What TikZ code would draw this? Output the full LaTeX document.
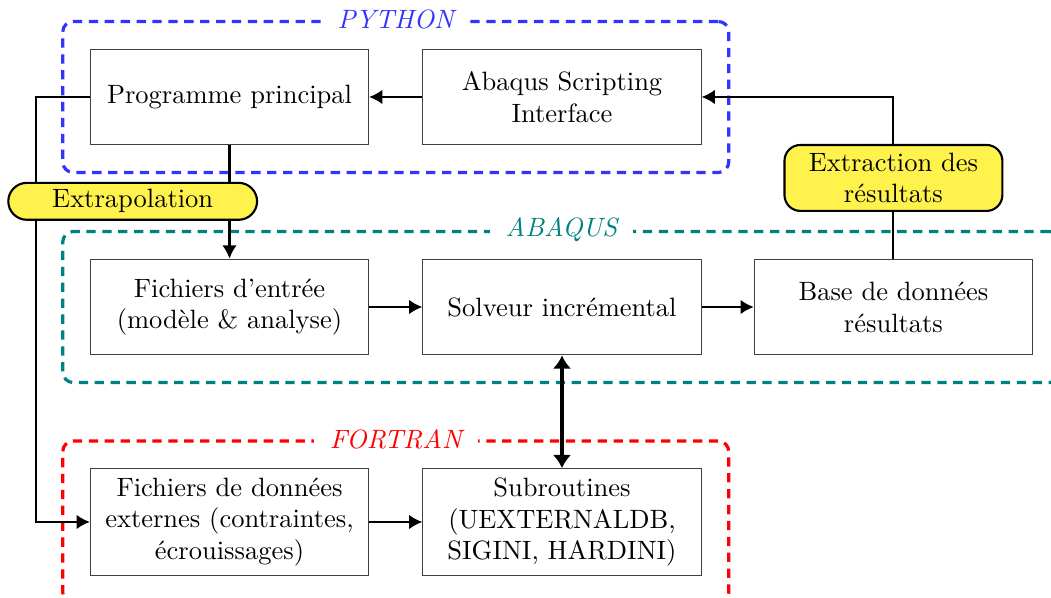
\documentclass[tikz,border=0pt]{standalone}
\usepackage{tikz}
\usetikzlibrary{arrows.meta,positioning,fit,calc}
\definecolor{pyblue}{RGB}{51,51,255}
\definecolor{abteal}{RGB}{0,128,128}
\definecolor{fortred}{RGB}{255,0,0}
\definecolor{tagyellow}{RGB}{255,242,77}

\begin{document}
\begin{tikzpicture}[
  box/.style={draw=black!75,align=center,minimum width=3.69cm,minimum height=1.27cm},
  frame/.style={very thick,dash pattern=on 3.5pt off 2.5pt,rounded corners=4pt,inner sep=0.36cm},
  framelabel/.style={fill=white,font=\itshape,inner xsep=6pt,inner ysep=1pt},
  tag/.style={draw,thick,fill=tagyellow,align=center},
  conn/.style={thick,-{Latex[length=5pt,width=5.5pt]}}]
\useasboundingbox (0,0) rectangle (13.94,-7.93);
% boxes
\node[box] (prog) at (3.044,-1.286) {Programme principal};
\node[box] (asi) at (7.454,-1.286) {Abaqus Scripting\\Interface};
\node[box] (entree) at (3.044,-4.072) {Fichiers d'entr\'ee\\(mod\`ele \& analyse)};
\node[box] (solv) at (7.454,-4.072) {Solveur incr\'emental};
\node[box] (base) at (11.85,-4.072) {Base de donn\'ees\\r\'esultats};
\node[box] (ext) at (3.044,-6.923) {Fichiers de donn\'ees\\externes (contraintes,\\\'ecrouissages)};
\node[box] (sub) at (7.454,-6.923) {Subroutines\\(UEXTERNALDB,\\SIGINI, HARDINI)};
% language frames
\node[frame,draw=pyblue,fit=(prog)(asi)] (py) {};
\node[frame,draw=abteal,fit=(entree)(base)] (ab) {};
\node[frame,draw=fortred,fit=(ext)(sub)] (fo) {};
\node[framelabel,text=pyblue] at (py.north) {PYTHON};
\node[framelabel,text=abteal] at (ab.north) {ABAQUS};
\node[framelabel,text=fortred] at (fo.north) {FORTRAN};
% connectors
\draw[conn] (asi) -- (prog);
\draw[conn] (entree) -- (solv);
\draw[conn] (solv) -- (base);
\draw[conn] (ext) -- (sub);
\draw[conn] (prog.south) -- (entree.north);
\draw[conn] (prog.west) -- ++(-0.72,0) |- (ext.west);
\draw[conn] (base.north) |- (asi.east);
\draw[line width=1.8pt,{Latex[length=5pt,width=7pt]}-{Latex[length=5pt,width=7pt]}] (solv.south) -- (sub.north);
% tags on the links
\node[tag,rounded corners=7pt,minimum width=3.3cm,minimum height=0.49cm,inner ysep=1pt] (extrap) at (1.76,-2.67) {Extrapolation};
\node[tag,rounded corners=6pt,minimum width=2.89cm,minimum height=0.875cm,inner ysep=1pt] (extr) at (11.85,-2.36) {Extraction des\\r\'esultats};
\end{tikzpicture}
\end{document}
